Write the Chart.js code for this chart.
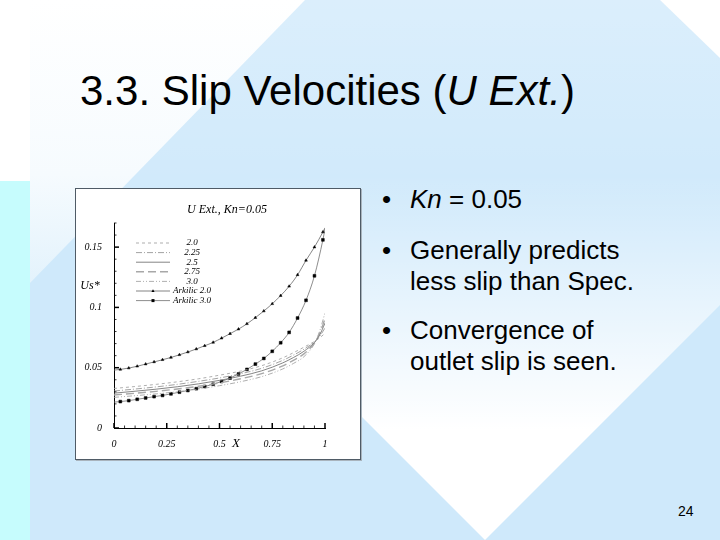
<!DOCTYPE html>
<html>
<head>
<meta charset="utf-8">
<script src="https://cdn.jsdelivr.net/npm/chart.js"></script>
<style>
html, body { margin: 0; padding: 0; }
body { width: 720px; height: 540px; position: relative; overflow: hidden; background: #cfe9fb;
       font-family: "Liberation Sans", Arial, sans-serif; }
#bg { position: absolute; left: 0; top: 0; }
.t { position: absolute; color: #000; white-space: nowrap; }
#title { left: 80px; top: 70px; font-size: 42px; line-height: 42px; }
.b { left: 382px; font-size: 26px; line-height: 31px; }
.b .dot { position: absolute; left: 0; top: 0; }
.b .txt { position: absolute; left: 28px; top: 0; }
#num { left: 678px; top: 504px; font-size: 14px; line-height: 14px; }
#box { position: absolute; left: 75px; top: 188px; width: 284px; height: 270px; background: #fff;
       border: 1px solid #4f5b66; box-shadow: 1px 1px 0 #a9b4bd; }
#c { display: block; }
</style>
</head>
<body>
<svg id="bg" width="720" height="540">
  <defs>
    <linearGradient id="gTop" x1="0" y1="0" x2="0" y2="290" gradientUnits="userSpaceOnUse">
      <stop offset="0" stop-color="#ffffff"/>
      <stop offset="0.6" stop-color="#f6fbfe"/>
      <stop offset="1" stop-color="#e2f2fc"/>
    </linearGradient>
    <linearGradient id="gSky" x1="0" y1="0" x2="0" y2="220" gradientUnits="userSpaceOnUse">
      <stop offset="0" stop-color="#ffffff" stop-opacity="0.25"/>
      <stop offset="1" stop-color="#ffffff" stop-opacity="0"/>
    </linearGradient>
    <linearGradient id="gDia" x1="0" y1="175" x2="0" y2="430" gradientUnits="userSpaceOnUse">
      <stop offset="0" stop-color="#ffffff" stop-opacity="0"/>
      <stop offset="1" stop-color="#ffffff" stop-opacity="1"/>
    </linearGradient>
  </defs>
  <rect x="0" y="0" width="720" height="540" fill="#cfe9fb"/>
  <rect x="30" y="0" width="690" height="220" fill="url(#gSky)"/>
  <polygon points="30,0 305,0 30,283" fill="url(#gTop)"/>
  <rect x="0" y="0" width="30" height="181" fill="#ffffff"/>
  <rect x="0" y="181" width="30" height="359" fill="#c6fcfd"/>
  <polygon points="485,540 250,305 250,100 720,100 720,305" fill="url(#gDia)"/>
  <polygon points="660,0 720,0 720,58" fill="#ffffff"/>
</svg>

<div class="t" id="title">3.3. Slip Velocities (<i>U Ext.</i>)</div>
<div class="t b" style="top:184px"><span class="dot">•</span><span class="txt"><i>Kn</i> = 0.05</span></div>
<div class="t b" style="top:235px"><span class="dot">•</span><span class="txt">Generally predicts<br>less slip than Spec.</span></div>
<div class="t b" style="top:315px"><span class="dot">•</span><span class="txt">Convergence of<br>outlet slip is seen.</span></div>
<div class="t" id="num">24</div>

<div id="box"><canvas id="c" width="284" height="270"></canvas></div>

<script>
// axis ticks
const xTicks = [0, 0.25, 0.5, 0.75, 1];
const xTickLabels = ['0', '0.25', '0.5', '0.75', '1'];
const yTicks = [0, 0.05, 0.1, 0.15];
const yTickLabels = ['0', '0.05', '0.1', '0.15'];
const xMinor = [0.05, 0.1, 0.15, 0.2, 0.3, 0.35, 0.4, 0.45, 0.55, 0.6, 0.65, 0.7, 0.8, 0.85, 0.9, 0.95];
const yMinor = [0.01, 0.02, 0.03, 0.04, 0.06, 0.07, 0.08, 0.09, 0.11, 0.12, 0.13, 0.14, 0.16, 0.17];

// model curves
const modelNames = ['2.0', '2.25', '2.5', '2.75', '3.0'];
const modelX = [0, 0.1, 0.2, 0.3, 0.4, 0.5, 0.6, 0.7, 0.8, 0.85, 0.9, 0.95, 0.975, 1.0];
const us20  = [0.0328, 0.0344, 0.0362, 0.0383, 0.0408, 0.0438, 0.0472, 0.0517, 0.0582, 0.0624, 0.0670, 0.0718, 0.0748, 0.0785];
const us225 = [0.0307, 0.0323, 0.0341, 0.0362, 0.0387, 0.0415, 0.0450, 0.0495, 0.0561, 0.0604, 0.0653, 0.0714, 0.0760, 0.0830];
const us25  = [0.0289, 0.0305, 0.0322, 0.0342, 0.0366, 0.0395, 0.0430, 0.0474, 0.0540, 0.0584, 0.0636, 0.0710, 0.0772, 0.0870];
const us275 = [0.0274, 0.0288, 0.0304, 0.0323, 0.0346, 0.0374, 0.0408, 0.0451, 0.0516, 0.0561, 0.0615, 0.0705, 0.0785, 0.0905];
const us30  = [0.0254, 0.0268, 0.0283, 0.0301, 0.0323, 0.0351, 0.0384, 0.0426, 0.0490, 0.0535, 0.0591, 0.0700, 0.0805, 0.0955];

// Arkilic solutions
const arkNames = ['Arkilic 2.0', 'Arkilic 3.0'];
const arkX = [0, 0.03, 0.07, 0.11, 0.15, 0.19, 0.23, 0.27, 0.31, 0.35, 0.39, 0.43, 0.47, 0.51,
              0.55, 0.59, 0.63, 0.67, 0.71, 0.75, 0.79, 0.83, 0.87, 0.91, 0.95, 0.99, 1.0];
const ark20 = [0.0480, 0.0486, 0.0497, 0.0512, 0.0530, 0.0548, 0.0566, 0.0585, 0.0607, 0.0630, 0.0655, 0.0682, 0.0710, 0.0745,
               0.0782, 0.0820, 0.0864, 0.0915, 0.0970, 0.1030, 0.1098, 0.1175, 0.1270, 0.1390, 0.1500, 0.1625, 0.1660];
const ark30 = [0.0215, 0.0219, 0.0227, 0.0238, 0.0249, 0.0260, 0.0270, 0.0283, 0.0297, 0.0311, 0.0326, 0.0344, 0.0363, 0.0386,
               0.0414, 0.0448, 0.0486, 0.0530, 0.0577, 0.0636, 0.0707, 0.0793, 0.0912, 0.1059, 0.1262, 0.1560, 0.1650];

const modelSeries = [us20, us225, us25, us275, us30];
const modelColors = ['#9a9a9a', '#8a8a8a', '#777777', '#a8a8a8', '#9a9a9a'];
const modelWidths = [0.8, 0.8, 0.9, 1.4, 0.8];
const modelDash = [[3, 3], [6, 2, 1, 2], [], [8, 4], [5, 2, 1, 2, 1, 2]];

const serif = '"Liberation Serif", "Times New Roman", serif';

const datasets = modelSeries.map((vals, i) => ({
    label: modelNames[i],
    data: modelX.map((xv, j) => ({ x: xv, y: vals[j] })),
    borderColor: modelColors[i],
    borderWidth: modelWidths[i],
    borderDash: modelDash[i],
    pointRadius: 0,
    fill: false,
    cubicInterpolationMode: 'monotone'
}));

const last = arkX.length - 1;
datasets.push({
    label: arkNames[0],
    data: arkX.map((xv, j) => ({ x: xv, y: ark20[j] })),
    borderColor: '#666666',
    borderWidth: 0.8,
    pointStyle: 'triangle',
    pointRadius: arkX.map((v, j) => (j === 0 || j === last) ? 0 : 1.6),
    pointBackgroundColor: '#000',
    pointBorderColor: '#000',
    pointBorderWidth: 0.5,
    fill: false,
    cubicInterpolationMode: 'monotone'
});
datasets.push({
    label: arkNames[1],
    data: arkX.map((xv, j) => ({ x: xv, y: ark30[j] })),
    borderColor: '#707070',
    borderWidth: 0.8,
    pointStyle: 'rect',
    pointRadius: arkX.map((v, j) => (j === 0 || j === last) ? 0 : 2),
    pointBackgroundColor: '#000',
    pointBorderColor: '#000',
    pointBorderWidth: 0.5,
    fill: false,
    cubicInterpolationMode: 'monotone'
});

// inward ticks, titles and the inset legend
const decor = {
    id: 'decor',
    afterDraw(chart) {
        const { ctx, chartArea } = chart;
        const xs = chart.scales.x, ys = chart.scales.y;
        const ax = chartArea.left, ay = chartArea.bottom;
        ctx.save();
        ctx.strokeStyle = '#000';

        ctx.lineWidth = 1.5;
        for (const v of yTicks) {
            const p = ys.getPixelForValue(v);
            ctx.beginPath(); ctx.moveTo(ax, p); ctx.lineTo(ax + 5, p); ctx.stroke();
        }
        for (const v of xTicks) {
            const p = xs.getPixelForValue(v);
            ctx.beginPath(); ctx.moveTo(p, ay); ctx.lineTo(p, ay - 5); ctx.stroke();
        }
        ctx.lineWidth = 0.8;
        for (const v of yMinor) {
            const p = ys.getPixelForValue(v);
            ctx.beginPath(); ctx.moveTo(ax, p); ctx.lineTo(ax + 2.5, p); ctx.stroke();
        }
        for (const v of xMinor) {
            const p = xs.getPixelForValue(v);
            ctx.beginPath(); ctx.moveTo(p, ay); ctx.lineTo(p, ay - 2.5); ctx.stroke();
        }

        ctx.fillStyle = '#000';
        ctx.textAlign = 'center';
        ctx.textBaseline = 'middle';
        ctx.font = 'italic 12px ' + serif;
        ctx.fillText('U Ext., Kn=0.05', 151, 21);
        ctx.font = 'italic 12px ' + serif;
        ctx.fillText('Us*', 14, 97);
        ctx.font = 'italic 13px ' + serif;
        ctx.fillText('X', 160, 255);

        // legend
        ctx.font = 'italic 9px ' + serif;
        chart.data.datasets.forEach((ds, i) => {
            const ry = 54 + i * 9.6;
            ctx.save();
            ctx.strokeStyle = ds.borderColor;
            ctx.lineWidth = ds.borderWidth;
            ctx.setLineDash(ds.borderDash || []);
            ctx.beginPath(); ctx.moveTo(60, ry); ctx.lineTo(94, ry); ctx.stroke();
            ctx.restore();
            if (ds.pointStyle === 'triangle') {
                ctx.beginPath();
                ctx.moveTo(77, ry - 1.8); ctx.lineTo(78.6, ry + 1); ctx.lineTo(75.4, ry + 1);
                ctx.closePath(); ctx.fill();
            } else if (ds.pointStyle === 'rect') {
                ctx.fillRect(75.5, ry - 1.5, 3, 3);
            }
            ctx.fillText(ds.label, 116, ry);
        });
        ctx.restore();
    }
};

new Chart(document.getElementById('c'), {
    type: 'line',
    data: { datasets },
    options: {
        responsive: false,
        animation: false,
        layout: { padding: { left: 0, right: 35, top: 34, bottom: 0 } },
        plugins: { legend: { display: false }, tooltip: { enabled: false } },
        scales: {
            x: {
                type: 'linear', min: 0, max: 1,
                grid: { display: false },
                border: { display: true, color: '#000', width: 1 },
                afterBuildTicks: s => { s.ticks = xTicks.map(v => ({ value: v })); },
                afterFit: s => { s.height = 31; },
                ticks: {
                    color: '#000', padding: 2, maxRotation: 0, autoSkip: false,
                    font: { family: serif, style: 'italic', size: 10 },
                    callback: v => xTickLabels[xTicks.indexOf(v)]
                }
            },
            y: {
                type: 'linear', min: 0, max: 0.17,
                grid: { display: false },
                border: { display: true, color: '#000', width: 1 },
                afterBuildTicks: s => { s.ticks = yTicks.map(v => ({ value: v })); },
                afterFit: s => { s.width = 38; },
                ticks: {
                    color: '#000', padding: 4, autoSkip: false,
                    font: { family: serif, style: 'italic', size: 10 },
                    callback: v => yTickLabels[yTicks.indexOf(v)]
                }
            }
        }
    },
    plugins: [decor]
});
</script>
</body>
</html>
